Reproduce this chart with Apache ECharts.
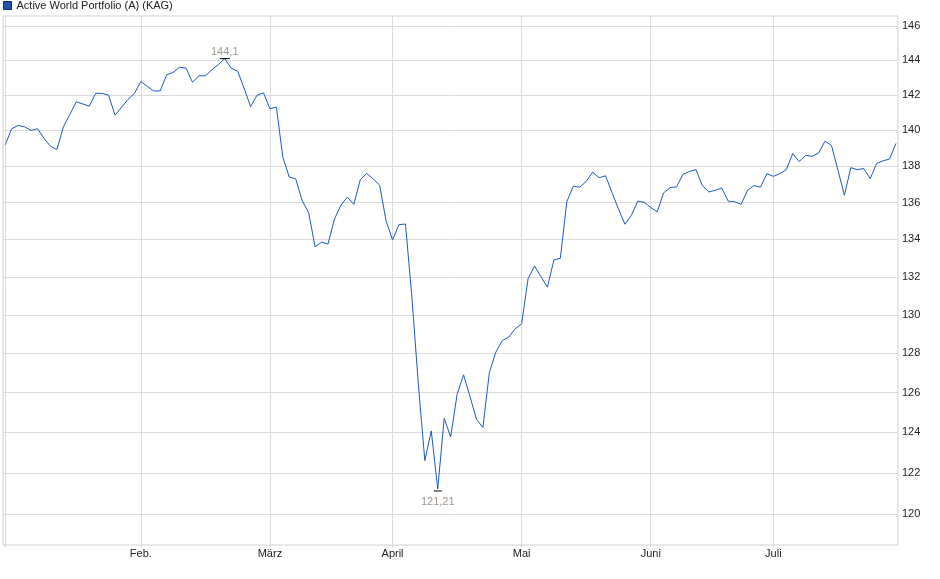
<!DOCTYPE html>
<html><head><meta charset="utf-8">
<script src="https://cdn.jsdelivr.net/npm/echarts@6/dist/echarts.min.js"></script>
<style>html,body{margin:0;padding:0;background:#fff}#c{width:940px;height:579px}</style>
</head><body><div id="c"></div>
<script>
const seriesName = 'Active World Portfolio (A) (KAG)';
const prices = [
 139.2,140.1,140.28,140.2,140.0,140.1,139.55,139.11,138.93,140.2,
 140.9,141.62,141.5,141.37,142.1,142.1,142.0,140.86,141.3,141.75,
 142.1,142.78,142.5,142.24,142.24,143.17,143.3,143.6,143.55,142.74,
 143.11,143.11,143.45,143.75,144.1,143.55,143.37,142.4,141.35,142.0,
 142.13,141.23,141.32,138.5,137.4,137.3,136.1,135.45,133.6,133.85,
 133.75,135.1,135.85,136.3,135.9,137.25,137.6,137.3,136.95,135.0,
 133.97,134.8,134.83,130.9,126.4,122.6,124.07,121.21,124.7,123.77,
 125.91,126.9,125.8,124.65,124.24,127.02,128.06,128.66,128.84,129.27,
 129.53,131.91,132.57,132.0,131.45,132.9,132.99,136.05,136.9,136.84,
 137.16,137.67,137.36,137.47,136.55,135.65,134.82,135.3,136.08,136.01,
 135.73,135.49,136.53,136.82,136.86,137.55,137.71,137.81,136.93,136.58,
 136.67,136.8,136.08,136.04,135.9,136.67,136.93,136.84,137.59,137.44,
 137.59,137.81,138.7,138.26,138.61,138.55,138.73,139.4,139.16,137.8,
 136.4,137.92,137.81,137.87,137.31,138.15,138.3,138.4,139.27
];
const monthNames = ['Feb.', 'März', 'April', 'Mai', 'Juni', 'Juli'];
const monthIdx = [21, 41, 60, 80, 100, 119];
const gridIdx = [0, 21, 41, 60, 80, 100, 119];
const yTicks = [120, 122, 124, 126, 128, 130, 132, 134, 136, 138, 140, 142, 144, 146];

const chart = echarts.init(document.getElementById('c'), null, {renderer: 'canvas'});
chart.setOption({
  animation: false,
  backgroundColor: '#fff',
  textStyle: {fontFamily: '"Liberation Sans", Arial, sans-serif'},
  legend: {
    left: 3, top: 0, padding: 0, itemWidth: 8, itemHeight: 8, icon: 'rect',
    data: [{name: seriesName, itemStyle: {color: '#1f52a8', borderColor: '#0f2d66', borderWidth: 1}}],
    textStyle: {fontSize: 11, color: '#222'}
  },
  grid: {left: 3, right: 42, top: 16, bottom: 34, show: true, borderColor: '#d0d0d0', borderWidth: 1, backgroundColor: '#fff'},
  xAxis: {
    type: 'value', min: -0.356, max: 138.31,
    axisLine: {show: false},
    axisTick: {show: true, customValues: gridIdx, length: 2, lineStyle: {color: '#d0d0d0'}},
    axisLabel: {customValues: monthIdx, formatter: v => monthNames[monthIdx.indexOf(Math.round(v))] || '', fontSize: 11, color: '#222', margin: 3},
    splitLine: {show: true, lineStyle: {color: '#dcdcdc'}}
  },
  yAxis: {
    type: 'log', position: 'right', min: 118.51, max: 146.59,
    axisLine: {show: false},
    axisTick: {show: false, customValues: yTicks},
    axisLabel: {customValues: yTicks, formatter: v => String(Math.round(v)), fontSize: 11, color: '#222', margin: 4},
    splitLine: {show: true, lineStyle: {color: '#dcdcdc'}}
  },
  series: [{
    name: seriesName, type: 'line',
    data: prices.map((v, i) => [i, v]),
    showSymbol: false, symbol: 'none',
    lineStyle: {color: '#1c59c4', width: 1},
    itemStyle: {color: '#1f52a8'},
    markPoint: {
      symbol: 'rect',
      itemStyle: {color: '#000'},
      label: {fontSize: 11, color: '#a09890', formatter: p => String(p.value).replace('.', ',')},
      data: [
        {type: 'max', valueDim: 'y', symbolSize: [10, 1], label: {position: 'top', distance: 1}},
        {type: 'min', valueDim: 'y', symbolSize: [8, 1], symbolOffset: [0, 2], label: {position: 'bottom', distance: 5}}
      ]
    }
  }]
});
</script></body></html>
